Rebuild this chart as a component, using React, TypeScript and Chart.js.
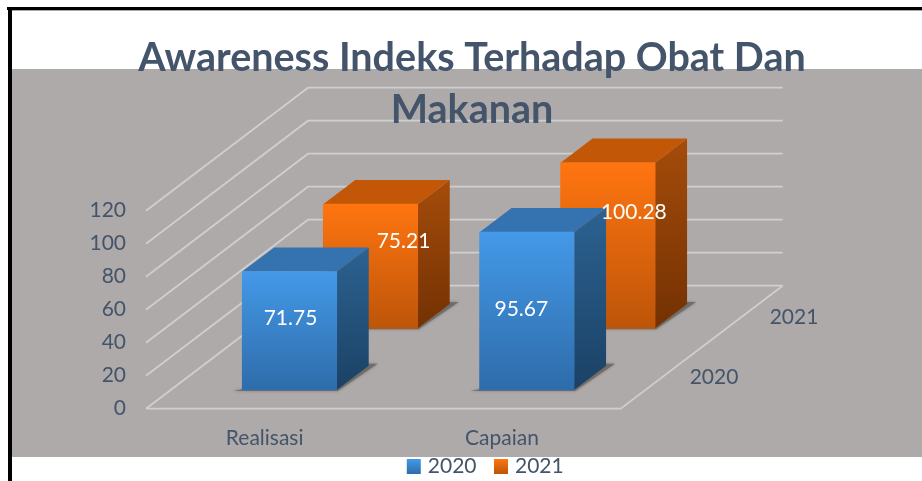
import React, { useEffect, useRef } from "react";
import { Chart, registerables } from "chart.js";

Chart.register(...registerables);

const titleLines = ["Awareness Indeks Terhadap Obat Dan", "Makanan"];
const categories = ["Realisasi", "Capaian"];
const seriesNames = ["2020", "2021"];
const values2020 = [71.75, 95.67];
const values2021 = [75.21, 100.28];
const yMax = 120;
const yStep = 20;

const FONT = "Lato";
const INK = "#44546A";
const GRID = "#CFCED1";
const BG = "#AEAAA9";

// 3D projection
const WALL_DX = 162;
const WALL_DY = 123;
const BAR_DX = 32;
const BAR_DY = 24.2;
const seriesShift = [
  { dx: 24.8, dy: -18.7 },
  { dx: 105.8, dy: -80.4 },
];
const seriesLabelPos = [
  { x: 714, y: 377 },
  { x: 794, y: 317 },
];
const valueLabelShift = [
  [{ dx: 1, dy: -13 }, { dx: -5.5, dy: -2 }],
  [{ dx: 33, dy: -25 }, { dx: 26, dy: -33 }],
];

const palette = [
  { frontTop: "#4499E8", frontBottom: "#2E6CAA", top: "#3473B0", sideTop: "#2C6291", sideBottom: "#1B4165" },
  { frontTop: "#FF7510", frontBottom: "#BD5509", top: "#C25708", sideTop: "#A54C0A", sideBottom: "#733103" },
];

function vGrad(ctx: CanvasRenderingContext2D, y0: number, y1: number, a: string, b: string) {
  const g = ctx.createLinearGradient(0, y0, 0, y1);
  g.addColorStop(0, a);
  g.addColorStop(1, b);
  return g;
}

function poly(ctx: CanvasRenderingContext2D, pts: number[][], fill: any) {
  ctx.beginPath();
  pts.forEach((p, i) => (i ? ctx.lineTo(p[0], p[1]) : ctx.moveTo(p[0], p[1])));
  ctx.closePath();
  ctx.fillStyle = fill;
  ctx.fill();
}

const scenePlugin = {
  id: "scene3d",
  afterLayout(chart: any) {
    const t = chart.titleBlock;
    if (t) {
      t.left = 0;
      t.right = 944;
    }
    const l = chart.legend;
    if (l) {
      l.left = 0;
      l.right = 974;
      const h = l.bottom - l.top;
      l.top = 435;
      l.bottom = l.top + h;
    }
    chart.scales.x.bottom = 457;
  },
  beforeDraw(chart: any) {
    const { ctx, width, height } = chart;
    const { x, y } = chart.scales;
    ctx.save();
    ctx.fillStyle = "#FFFFFF";
    ctx.fillRect(0, 0, width, height);
    ctx.fillStyle = BG;
    ctx.fillRect(12, 69, width - 12, 388);
    ctx.fillStyle = "#000000";
    ctx.fillRect(7, 7, width - 7, 3);
    ctx.fillRect(8, 7, 4, height - 7);
    ctx.fillStyle = "#A8A8A8";
    ctx.fillRect(12, 10, width - 12, 1);

    const xl = x.left;
    const xr = x.right;
    ctx.strokeStyle = GRID;
    ctx.lineWidth = 1.8;
    y.ticks.forEach((tick: any) => {
      const py = y.getPixelForValue(tick.value);
      ctx.beginPath();
      ctx.moveTo(xl, py);
      ctx.lineTo(xl + WALL_DX, py - WALL_DY);
      ctx.lineTo(xr + WALL_DX, py - WALL_DY);
      ctx.stroke();
    });
    const py0 = y.getPixelForValue(0);
    ctx.beginPath();
    ctx.moveTo(xl, py0);
    ctx.lineTo(xr, py0);
    ctx.lineTo(xr + WALL_DX, py0 - WALL_DY);
    ctx.stroke();
    ctx.restore();
  },
  beforeDatasetDraw(chart: any, args: any) {
    const { ctx } = chart;
    const i = args.index;
    const s = seriesShift[i];
    const c = palette[i];
    ctx.save();
    ctx.translate(s.dx, s.dy);
    args.meta.data.forEach((bar: any) => {
      const x0 = bar.x - bar.width / 2;
      const x1 = bar.x + bar.width / 2;
      const t = bar.y;
      const b = bar.base;
      // floor shadow
      ctx.save();
      ctx.shadowColor = "rgba(90,85,82,0.7)";
      ctx.shadowBlur = 3;
      poly(
        ctx,
        [
          [x0 - 9, b + 1],
          [x1 + 1, b + 1],
          [x1 + BAR_DX + 9, b - BAR_DY - 2],
          [x1 + BAR_DX, b - BAR_DY - 2],
        ],
        "rgba(108,102,98,0.8)"
      );
      ctx.restore();
      // side face
      poly(
        ctx,
        [
          [x1, t],
          [x1 + BAR_DX, t - BAR_DY],
          [x1 + BAR_DX, b - BAR_DY],
          [x1, b],
        ],
        vGrad(ctx, t - BAR_DY, b, c.sideTop, c.sideBottom)
      );
      // top face
      poly(
        ctx,
        [
          [x0, t],
          [x1, t],
          [x1 + BAR_DX, t - BAR_DY],
          [x0 + BAR_DX, t - BAR_DY],
        ],
        c.top
      );
    });
  },
  afterDatasetDraw(chart: any) {
    chart.ctx.restore();
  },
  afterDatasetsDraw(chart: any) {
    const { ctx } = chart;
    ctx.save();
    ctx.textAlign = "center";
    ctx.textBaseline = "middle";
    ctx.font = `21px ${FONT}`;
    chart.data.datasets.forEach((ds: any, i: number) => {
      const s = seriesShift[i];
      chart.getDatasetMeta(i).data.forEach((bar: any, j: number) => {
        const o = valueLabelShift[i][j];
        ctx.fillStyle = "#FFFFFF";
        ctx.fillText(
          ds.data[j].toFixed(2),
          bar.x + s.dx + o.dx,
          (bar.y + bar.base) / 2 + s.dy + o.dy
        );
      });
      ctx.fillStyle = INK;
      ctx.fillText(seriesNames[i], seriesLabelPos[i].x, seriesLabelPos[i].y);
    });
    ctx.restore();
  },
};

function frontFill(i: number) {
  return (c: any) => {
    const chart = c.chart;
    const sc = chart.scales?.y;
    const v = c.raw;
    if (!sc || typeof v !== "number") return palette[i].frontTop;
    const y0 = sc.getPixelForValue(v);
    const y1 = sc.getPixelForValue(0);
    if (!Number.isFinite(y0) || !Number.isFinite(y1) || y0 === y1) return palette[i].frontTop;
    return vGrad(chart.ctx, y0, y1, palette[i].frontTop, palette[i].frontBottom);
  };
}

export default function App() {
  const ref = useRef<HTMLCanvasElement | null>(null);
  useEffect(() => {
    if (!ref.current) return;
    const chart = new Chart(ref.current, {
      type: "bar",
      data: {
        labels: categories,
        datasets: [
          {
            label: seriesNames[0],
            data: values2020,
            backgroundColor: frontFill(0),
            borderWidth: 0,
            grouped: false,
            barThickness: 94.5,
            clip: false,
          },
          {
            label: seriesNames[1],
            data: values2021,
            backgroundColor: frontFill(1),
            borderWidth: 0,
            grouped: false,
            barThickness: 94.5,
            clip: false,
          },
        ],
      } as any,
      plugins: [scenePlugin as any],
      options: {
        responsive: false,
        animation: false,
        events: [],
        layout: { padding: { left: 0, right: 301.3, top: 0, bottom: 0 } },
        plugins: {
          tooltip: { enabled: false },
          title: {
            display: true,
            text: titleLines,
            color: INK,
            font: { family: FONT, size: 39.5, weight: "bold", lineHeight: 1.32 },
            padding: { top: 32, bottom: 74.4 },
          },
          legend: {
            display: true,
            position: "bottom",
            labels: {
              color: INK,
              font: { family: FONT, size: 21 },
              boxWidth: 7,
              boxHeight: 8,
              padding: 21,
              generateLabels: (chart: any) =>
                seriesNames.map((name, i) => {
                  const g = vGrad(chart.ctx, 459, 474, palette[i].frontTop, palette[i].frontBottom);
                  return {
                    text: name,
                    fillStyle: g,
                    strokeStyle: g,
                    lineWidth: 7,
                    fontColor: INK,
                    hidden: false,
                    datasetIndex: i,
                  };
                }),
            },
          },
        },
        scales: {
          x: {
            grid: { display: false },
            border: { display: false },
            ticks: { color: INK, font: { family: FONT, size: 21 }, padding: 9 },
            afterFit: (s: any) => {
              s.height = 20.3;
            },
          },
          y: {
            min: 0,
            max: yMax,
            grid: { display: false },
            border: { display: false },
            ticks: {
              stepSize: yStep,
              color: INK,
              font: { family: FONT, size: 21 },
              padding: 12,
            },
            afterFit: (s: any) => {
              s.width = 146;
            },
          },
        },
      } as any,
    });
    return () => chart.destroy();
  }, []);
  return (
    <div style={{ position: "fixed", left: 0, top: 0, width: 922, height: 481, overflow: "hidden", background: "#fff" }}>
      <canvas ref={ref} width={922} height={481} style={{ display: "block" }} />
    </div>
  );
}
